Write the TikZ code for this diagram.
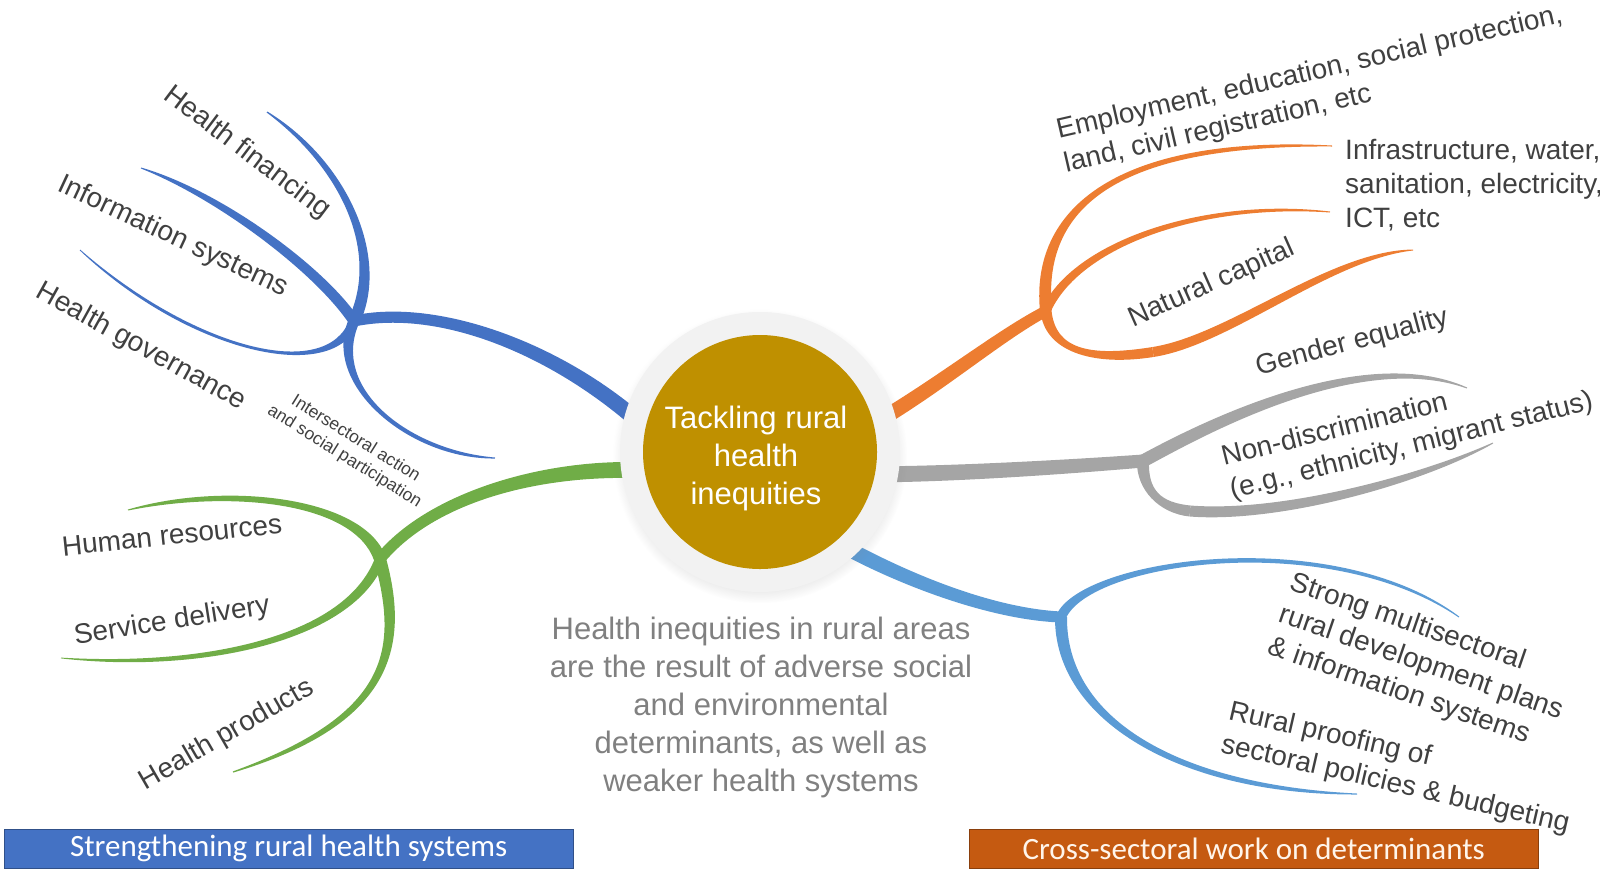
\documentclass[tikz,border=0pt]{standalone}
\usepackage{fontspec}
\setmainfont{Liberation Sans}
\newfontfamily\barfont{Carlito}
\usetikzlibrary{calc,shadows,backgrounds}

\definecolor{hsblue}{HTML}{4472C4}
\definecolor{hsgreen}{HTML}{70AD47}
\definecolor{hsorange}{HTML}{ED7D31}
\definecolor{hsgray}{HTML}{A5A5A5}
\definecolor{hslight}{HTML}{5B9BD5}
\definecolor{hubgold}{HTML}{BF9000}
\definecolor{ringgray}{HTML}{F2F2F2}
\definecolor{labgray}{HTML}{404040}
\definecolor{notegray}{HTML}{808080}
\definecolor{barorange}{HTML}{C55A11}

% tapered branch: colour, half widths (start, near end, end), start, control, control, end
\newcommand{\limb}[8]{%
  \path ($(#5)!#2!90:(#6)$) coordinate (la) ($(#5)!#2!-90:(#6)$) coordinate (lb)
        ($(#8)!#4!-90:(#7)$) coordinate (lc) ($(#8)!#4!90:(#7)$) coordinate (ld)
        ($(#7)!#3!90:(#8)$) coordinate (lp) ($(#7)!#3!-90:(#8)$) coordinate (lq);
  \fill[#1] (la) .. controls ($(#6)+(la)-(#5)$) and (lp) .. (lc)
    -- (ld) .. controls (lq) and ($(#6)+(lb)-(#5)$) .. (lb) -- cycle;}

\begin{document}
\begin{tikzpicture}[x=1pt,y=-1pt,
  lab/.style={text=labgray,font=\fontsize{28}{34}\selectfont,inner sep=0pt},
  bar/.style={minimum width=569pt,minimum height=39pt,anchor=north west,inner sep=0pt,
    font={\barfont\fontsize{31}{36}\selectfont}}]
\useasboundingbox (0,0) rectangle (1600,871);

\node[circle,fill=ringgray,minimum size=280pt,
  circular drop shadow={shadow xshift=0pt,shadow yshift=-4pt,shadow scale=1.05,opacity=0.25}] (ring) at (760,452) {};
\node[circle,fill=hubgold,minimum size=234pt,inner sep=0pt] (hub) at (760,452) {};
\node[text=white,align=center,font=\fontsize{31}{38}\selectfont] (hubtxt) at ($(hub.center)+(-4,6)$) {Tackling rural\\health\\inequities};

\coordinate (bj) at (354,321);
\coordinate (bfin) at (267,112);
\coordinate (bint) at (495,458);
\coordinate (binf) at (141,168);
\coordinate (bgov) at (80,250);
\coordinate (gj) at (380,559);
\coordinate (ghum) at (128,510);
\coordinate (gpro) at (233,772);
\coordinate (gser) at (61,658);
\coordinate (oj) at (1046,311);
\coordinate (oemp) at (1332,146);
\coordinate (oict) at (1330,212);
\coordinate (onm) at (1153,352);
\coordinate (onat) at (1413,250);
\coordinate (yj) at (1143,461);
\coordinate (ygen) at (1467,388);
\coordinate (ynm) at (1190,511);
\coordinate (ynon) at (1493,443);
\coordinate (cj) at (1061,617);
\coordinate (cstr) at (1459,617);
\coordinate (crur) at (1357,794);

\begin{scope}[on background layer]
\limb{hsblue}{8pt}{6pt}{5.5pt}{hub.168}{560,350}{440,303}{bj}
\limb{hsblue}{6pt}{5pt}{0.6pt}{bj}{385,255}{345,165}{bfin}
\limb{hsblue}{5.5pt}{4.5pt}{0.5pt}{bj}{325,387}{410,455}{bint}
\limb{hsblue}{5.5pt}{4.5pt}{0.5pt}{bj}{320,270}{220,195}{binf}
\limb{hsblue}{4.5pt}{3.5pt}{0.4pt}{bj}{330,385}{190,350}{bgov}

\limb{hsgreen}{8pt}{6pt}{5.5pt}{hub.189}{540,466}{430,498}{gj}
\limb{hsgreen}{6pt}{5pt}{0.5pt}{gj}{360,500}{230,485}{ghum}
\limb{hsgreen}{6pt}{5.5pt}{0.6pt}{gj}{405,650}{390,720}{gpro}
\limb{hsgreen}{5pt}{4pt}{0.4pt}{gj}{350,640}{200,670}{gser}

\limb{hsorange}{7.5pt}{6pt}{5.5pt}{hub.14}{940,385}{1000,335}{oj}
\limb{hsorange}{6pt}{5pt}{0.5pt}{oj}{1035,200}{1130,140}{oemp}
\limb{hsorange}{4.5pt}{3.5pt}{0.5pt}{oj}{1075,245}{1200,200}{oict}
\limb{hsorange}{5.5pt}{5pt}{5pt}{oj}{1050,350}{1090,362}{onm}
\limb{hsorange}{5pt}{4.5pt}{0.5pt}{onm}{1230,340}{1330,255}{onat}

\limb{hsgray}{8pt}{7pt}{6.5pt}{hub.349}{960,474}{1080,466}{yj}
\limb{hsgray}{6.5pt}{5pt}{0.5pt}{yj}{1200,430}{1360,345}{ygen}
\limb{hsgray}{6pt}{5.5pt}{5.5pt}{yj}{1142,490}{1160,508}{ynm}
\limb{hsgray}{5.5pt}{4.5pt}{0.5pt}{ynm}{1280,518}{1420,480}{ynon}

\limb{hslight}{7.5pt}{6pt}{5.5pt}{hub.310}{900,578}{990,614}{cj}
\limb{hslight}{5pt}{4pt}{0.5pt}{cj}{1085,560}{1330,525}{cstr}
\limb{hslight}{6pt}{5pt}{0.5pt}{cj}{1060,720}{1180,790}{crur}
\end{scope}

\node[lab,rotate=-37] (lfin) at (247,153) {Health financing};
\node[lab,rotate=-25] (linf) at (173,237) {Information systems};
\node[lab,rotate=-29] (lgov) at (141,347) {Health governance};
\node[lab,font=\fontsize{17.5}{21}\selectfont,align=center,rotate=-32] (lint) at (350,448) {Intersectoral action\\and social participation};
\node[lab,rotate=6] (lhum) at (172,535) {Human resources};
\node[lab,rotate=9] (lser) at (172,622) {Service delivery};
\node[lab,rotate=30] (lpro) at (227,735) {Health products};

\node[lab,align=left,rotate=13,anchor=north west] (lemp) at (1054,119) {Employment, education, social protection,\\land, civil registration, etc};
\node[lab,align=left,anchor=north west] (lict) at (1345,139) {Infrastructure, water,\\sanitation, electricity,\\ICT, etc};
\node[lab,rotate=24] (lnat) at (1212,284) {Natural capital};
\node[lab,rotate=15] (lgen) at (1352,343) {Gender equality};
\node[lab,align=left,rotate=14,anchor=north west] (lnon) at (1219,446) {Non-discrimination\\(e.g., ethnicity, migrant status)};
\node[lab,align=left,rotate=-19,anchor=north west] (lstr) at (1295,570) {Strong multisectoral\\rural development plans\\\& information systems};
\node[lab,align=left,rotate=-13,anchor=north west] (lrur) at (1232,699) {Rural proofing of\\sectoral policies \& budgeting};

\node[text=notegray,font=\fontsize{31}{38}\selectfont,align=center] (note) at (761,707)
  {Health inequities in rural areas\\are the result of adverse social\\and environmental\\determinants, as well as\\weaker health systems};

\node[bar,fill=hsblue,draw=hsblue!70!black,text=white] (barl) at (4,829) {Strengthening rural health systems};
\node[bar,fill=barorange,draw=barorange!70!black,text=white!92!orange] (barr) at (969,829) {Cross-sectoral work on determinants};
\end{tikzpicture}
\end{document}
